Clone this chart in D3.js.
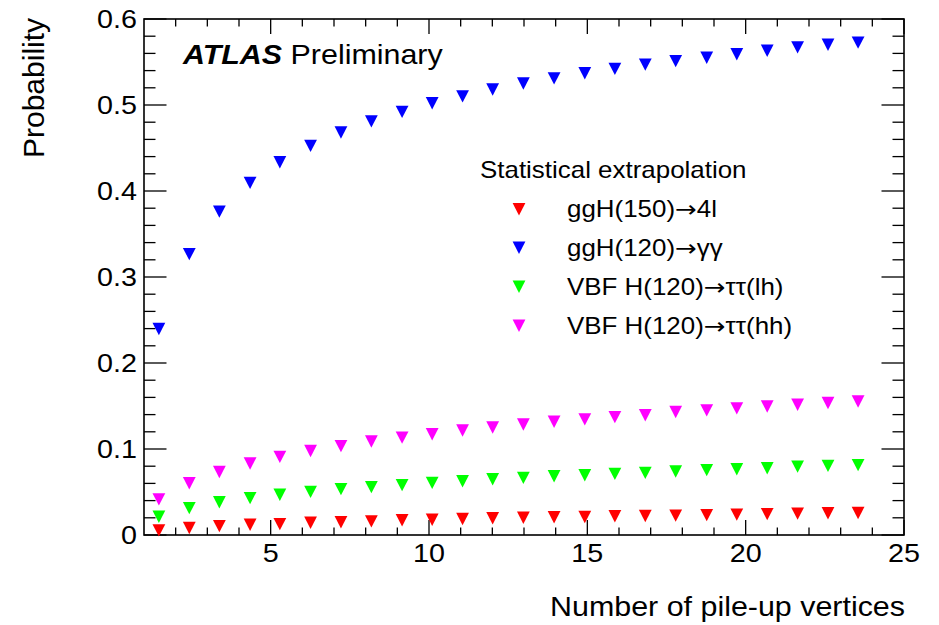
<!DOCTYPE html>
<html>
<head>
<meta charset="utf-8">
<script src="https://cdn.jsdelivr.net/npm/d3@7"></script>
<style>
  html, body { margin: 0; padding: 0; background: #fff; }
  svg { display: block; }
  text { font-family: "Liberation Sans", Arial, Helvetica, sans-serif; fill: #000; }
</style>
</head>
<body>
<svg id="chart" width="939" height="625"></svg>
<script>
// ---- data ----
const xValues = [1.47, 2.43, 3.38, 4.35, 5.29, 6.26, 7.22, 8.18, 9.15, 10.10, 11.06, 12.01,
                 12.98, 13.95, 14.92, 15.87, 16.83, 17.79, 18.77, 19.72, 20.68, 21.64, 22.60, 23.55];
const ggH150_4l = [0.0054, 0.0082, 0.0103, 0.0119, 0.0126, 0.0142, 0.0149, 0.0159, 0.0171, 0.0178, 0.0186, 0.0194,
                   0.0200, 0.0206, 0.0210, 0.0218, 0.0221, 0.0225, 0.0231, 0.0237, 0.0243, 0.0248, 0.0253, 0.0256];
const ggH120_gg = [0.2395, 0.3266, 0.3760, 0.4095, 0.4335, 0.4525, 0.4680, 0.4810, 0.4920, 0.5020, 0.5100, 0.5180,
                   0.5250, 0.5310, 0.5370, 0.5420, 0.5470, 0.5510, 0.5550, 0.5590, 0.5630, 0.5670, 0.5700, 0.5725];
const vbf_tt_lh = [0.0213, 0.0313, 0.0381, 0.0429, 0.0468, 0.0501, 0.0534, 0.0557, 0.0580, 0.0606, 0.0625, 0.0649,
                   0.0664, 0.0683, 0.0695, 0.0711, 0.0722, 0.0738, 0.0754, 0.0765, 0.0777, 0.0795, 0.0804, 0.0812];
const vbf_tt_hh = [0.0414, 0.0602, 0.0732, 0.0831, 0.0909, 0.0977, 0.1033, 0.1087, 0.1132, 0.1171, 0.1215, 0.1250,
                   0.1285, 0.1317, 0.1344, 0.1371, 0.1393, 0.1430, 0.1449, 0.1472, 0.1495, 0.1515, 0.1535, 0.1553];
// legend labels split around the arrow so the arrow can use a wider glyph
const seriesNamesPre = ["ggH(150)", "ggH(120)", "VBF H(120)", "VBF H(120)"];
const seriesNamesPost = ["4l", "\u03b3\u03b3", "\u03c4\u03c4(lh)", "\u03c4\u03c4(hh)"];
const seriesColors = ["#ff0000", "#0000ff", "#00ff00", "#ff00ff"];
const xMajorTicks = [5, 10, 15, 20, 25];
const yMajorTicks = [0, 0.1, 0.2, 0.3, 0.4, 0.5, 0.6];
const xDomain = [1, 25];
const yDomain = [0, 0.6];

const seriesValues = [ggH150_4l, ggH120_gg, vbf_tt_lh, vbf_tt_hh];

// ---- layout ----
const L = 144, R = 904, T = 19, B = 535;
const SX = 1.127; // horizontal text stretch seen in the reference

const svg = d3.select("#chart");
const x = d3.scaleLinear().domain(xDomain).range([L, R]);
const y = d3.scaleLinear().domain(yDomain).range([B, T]);

function label(parent, px, py, str, size, anchor) {
  return parent.append("text")
    .attr("transform", `translate(${px},${py}) scale(${SX},1)`)
    .attr("text-anchor", anchor || "start")
    .style("font-size", size + "px")
    .text(str);
}

// ---- ticks (ROOT style, inward, on all four sides) ----
const xMinor = d3.range(xDomain[0] + 1, xDomain[1], 1).filter(v => !xMajorTicks.includes(v));
const yMinor = d3.range(0.02, 0.6, 0.02).map(v => +v.toFixed(2)).filter(v => !yMajorTicks.some(m => Math.abs(m - v) < 1e-9));

const ticks = svg.append("g").attr("stroke", "#000").attr("stroke-width", 1.3);
const xMaj = 15, xMin = 7.5, yMaj = 22.5, yMin = 11.5;
xMajorTicks.concat(xMinor).forEach(v => {
  const len = xMajorTicks.includes(v) ? xMaj : xMin;
  ticks.append("line").attr("x1", x(v)).attr("x2", x(v)).attr("y1", B).attr("y2", B - len);
  ticks.append("line").attr("x1", x(v)).attr("x2", x(v)).attr("y1", T).attr("y2", T + len);
});
yMajorTicks.concat(yMinor).forEach(v => {
  const len = yMajorTicks.includes(v) ? yMaj : yMin;
  ticks.append("line").attr("x1", L).attr("x2", L + len).attr("y1", y(v)).attr("y2", y(v));
  ticks.append("line").attr("x1", R).attr("x2", R - len).attr("y1", y(v)).attr("y2", y(v));
});

// frame
svg.append("rect").attr("x", L).attr("y", T).attr("width", R - L).attr("height", B - T)
  .attr("fill", "none").attr("stroke", "#000").attr("stroke-width", 1.6);

// tick labels
xMajorTicks.forEach(v => label(svg, x(v), 562, d3.format("d")(v), 25.5, "middle"));
yMajorTicks.forEach(v => label(svg, 137, y(v) + 9, v === 0 ? "0" : d3.format(".1f")(v), 25.5, "end"));

// axis titles
label(svg, 905, 616, "Number of pile-up vertices", 27, "end");
svg.append("text")
  .attr("transform", `translate(43.5,158) rotate(-90)`)
  .attr("text-anchor", "start")
  .style("font-size", "30px")
  .text("Probability");

// ATLAS label
const atl = svg.append("text")
  .attr("transform", `translate(183,63.5) scale(${SX},1)`)
  .style("font-size", "27px");
atl.append("tspan").style("font-weight", "bold").style("font-style", "italic").text("ATLAS");
atl.append("tspan").text(" Preliminary");

// ---- markers: inverted triangles ----
const hw = 6.4, hh = 6.2;
function triPath(cx, cy) {
  return `M${cx - hw},${cy - hh}L${cx + hw},${cy - hh}L${cx},${cy + hh}Z`;
}
const pts = svg.append("g");
seriesValues.forEach((vals, si) => {
  pts.append("g").selectAll("path")
    .data(vals.map((v, i) => [xValues[i], v]))
    .join("path")
    .attr("d", d => triPath(x(d[0]), y(d[1])))
    .attr("fill", seriesColors[si]);
});

// ---- legend ----
const leg = svg.append("g");
label(leg, 480, 177.5, "Statistical extrapolation", 23, "start");
const legY = [209.3, 247.7, 286.7, 325.7];
seriesNamesPre.forEach((pre, i) => {
  leg.append("path").attr("d", triPath(519, legY[i])).attr("fill", seriesColors[i]);
  const t = label(leg, 567, legY[i] + 8, "", 23, "start");
  t.append("tspan").text(pre);
  t.append("tspan").style("font-family", "'DejaVu Sans', sans-serif").text("\u2192");
  t.append("tspan").text(seriesNamesPost[i]);
});
</script>
</body>
</html>
